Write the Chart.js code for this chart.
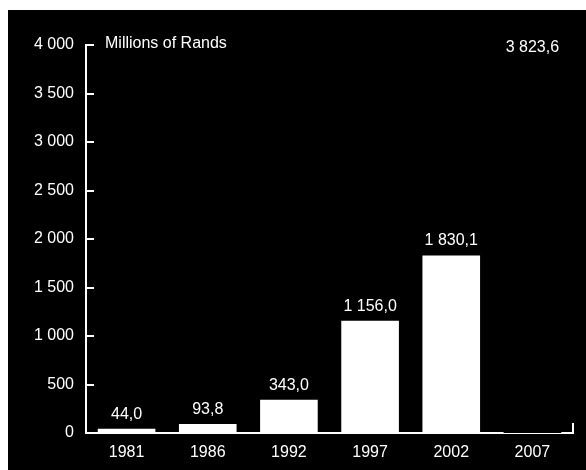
<!DOCTYPE html>
<html>
<head>
<meta charset="utf-8">
<script src="https://cdn.jsdelivr.net/npm/chart.js@4"></script>
<style>
    html, body { margin: 0; padding: 0; background: #fff; }
    #panel { position: absolute; left: 8px; top: 10px; width: 578px; height: 460px; background: #000; }
    #randsChart { display: block; }
</style>
</head>
<body>
<div id="panel"><canvas id="randsChart" width="578" height="460"></canvas></div>
<script>
// Montos por año, en millones de rands
const years = ['1981', '1986', '1992', '1997', '2002', '2007'];
const amounts = [44.0, 93.8, 343.0, 1156.0, 1830.1, 3823.6];
const barColors = ['#fff', '#fff', '#fff', '#fff', '#fff', '#000'];
const unitLabel = 'Millions of Rands';
const yMax = 4000;
const yStep = 500;

const FONT = '"Liberation Sans", Arial, sans-serif';

// 4 000 / 1 830,1
function fmtNum(v, dec) {
    const parts = v.toFixed(dec).split('.');
    parts[0] = parts[0].replace(/\B(?=(\d{3})+(?!\d))/g, ' ');
    return parts.join(',');
}

// Marcas del eje Y hacia adentro, remate del eje X, valores y unidad
const decorPlugin = {
    id: 'decor',
    afterDraw(chart) {
        const ctx = chart.ctx;
        const area = chart.chartArea;
        const y = chart.scales.y;
        ctx.save();
        ctx.strokeStyle = '#fff';
        ctx.lineWidth = 2;
        ctx.beginPath();
        y.ticks.forEach(function(t, i) {
            if (i === 0) return;
            const py = Math.round(y.getPixelForTick(i));
            ctx.moveTo(area.left, py);
            ctx.lineTo(area.left + 8, py);
        });
        ctx.moveTo(area.right, area.bottom);
        ctx.lineTo(area.right, area.bottom - 10);
        ctx.stroke();

        ctx.fillStyle = '#fff';
        ctx.font = '16px ' + FONT;
        ctx.textAlign = 'left';
        ctx.textBaseline = 'middle';
        ctx.fillText(unitLabel, area.left + 19, area.top - 1);

        ctx.textAlign = 'center';
        ctx.textBaseline = 'alphabetic';
        chart.getDatasetMeta(0).data.forEach(function(bar, i) {
            ctx.fillText(fmtNum(amounts[i], 1), bar.x, bar.y - 10);
        });
        ctx.restore();
    }
};

document.addEventListener('DOMContentLoaded', function() {
    try {
        const canvas = document.getElementById('randsChart');
        new Chart(canvas.getContext('2d'), {
            type: 'bar',
            data: {
                labels: years,
                datasets: [{
                    data: amounts,
                    backgroundColor: barColors,
                    borderWidth: 0,
                    categoryPercentage: 1.0,
                    barPercentage: 0.71
                }]
            },
            options: {
                responsive: false,
                animation: false,
                devicePixelRatio: 1,
                layout: { autoPadding: false, padding: { left: 0, right: 13, top: 35, bottom: 0 } },
                plugins: {
                    legend: { display: false },
                    tooltip: { enabled: false }
                },
                scales: {
                    x: {
                        z: 1,
                        grid: { display: false, drawTicks: false },
                        border: { display: true, color: '#fff', width: 2 },
                        ticks: { color: '#fff', font: { family: FONT, size: 16 }, padding: 10, maxRotation: 0 },
                        afterFit: function(s) { s.height = 37; }
                    },
                    y: {
                        z: 1,
                        min: 0,
                        max: yMax,
                        grid: { display: false, drawTicks: false },
                        border: { display: true, color: '#fff', width: 2 },
                        ticks: {
                            stepSize: yStep,
                            color: '#fff',
                            font: { family: FONT, size: 16 },
                            padding: 12,
                            callback: function(v) { return fmtNum(v, 0); }
                        },
                        afterFit: function(s) { s.width = 78; }
                    }
                }
            },
            plugins: [decorPlugin]
        });
    } catch (e) { console.error('chart init', e); }
});
</script>
</body>
</html>
